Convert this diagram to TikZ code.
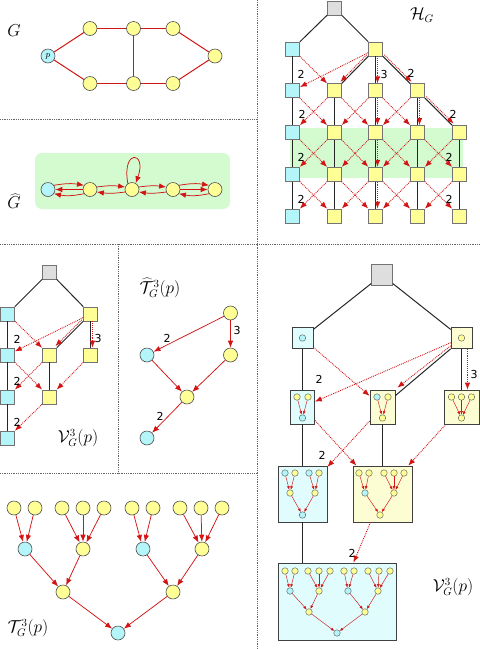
\documentclass[tikz,border=0pt]{standalone}
\usepackage{fontspec}
\newfontfamily\lbl{DejaVu Sans}
\usetikzlibrary{arrows.meta}
\definecolor{yel}{RGB}{255,255,150}
\definecolor{cya}{RGB}{180,245,250}
\definecolor{grn}{RGB}{212,250,208}
\definecolor{rd}{RGB}{210,20,20}
\definecolor{lcya}{RGB}{225,252,252}
\definecolor{lyel}{RGB}{253,253,212}
\definecolor{gry}{RGB}{222,222,222}
\definecolor{bord}{RGB}{80,80,80}
\tikzset{
 cn/.style={circle,draw=bord,line width=0.6pt,minimum size=14pt,inner sep=0pt},
 yc/.style={cn,fill=yel}, cc/.style={cn,fill=cya},
 sq/.style={rectangle,draw=black!55,line width=0.7pt,minimum size=14pt,inner sep=0pt},
 ys/.style={sq,fill=yel}, cs/.style={sq,fill=cya}, gs/.style={sq,fill=gry},
 sn/.style={circle,draw=bord,line width=0.4pt,minimum size=6.5pt,inner sep=0pt},
 ysn/.style={sn,fill=yel}, csn/.style={sn,fill=cya},
 ra/.style={draw=rd,line width=0.75pt,-{Latex[length=7pt,width=5.5pt]}},
 rdot/.style={ra,line width=0.9pt,densely dotted},
 sa/.style={draw=rd,line width=0.45pt,-{Latex[length=3.5pt,width=2.8pt]}},
 te/.style={draw=black!85,line width=1pt},
 ge/.style={draw=rd,line width=1pt},
 lab/.style={font=\lbl\fontsize{11}{11}\selectfont,inner sep=0pt},
 big/.style={font=\fontsize{16}{16}\selectfont,inner sep=0pt},
 div/.style={draw=black!60,densely dotted,line width=0.8pt},
 bx/.style={rectangle,draw=black!75,line width=0.7pt,inner sep=0pt},
}
\begin{document}
\begin{tikzpicture}[x=1pt,y=-1pt]
\useasboundingbox (0,0) rectangle (480,649);
% dividers
\draw[div] (0,119) -- (257,119);
\draw[div] (257,0) -- (257,649);
\draw[div] (0,244) -- (480,244);
\draw[div] (118,244) -- (118,473);
\draw[div] (0,473) -- (257,473);

% ---------------- G
\node[big] (gl) at (14,31) {$G$};
\node[cc,font=\small] (gp) at (48,56) {$p$};
\node[yc] (t1) at (90,28.5) {};
\node[yc] (t2) at (133.5,28.5) {};
\node[yc] (t3) at (173,28.5) {};
\node[yc] (gr) at (215,56) {};
\node[yc] (b1) at (90,83.5) {};
\node[yc] (b2) at (133.5,83.5) {};
\node[yc] (b3) at (173,83.5) {};
\foreach \a/\b in {gp/t1,t1/t2,t2/t3,t3/gr,gr/b3,b3/b2,b2/b1,b1/gp,t2/b2} \draw[ge] (\a) -- (\b);

% ---------------- G hat
\node[big] (ghl) at (14,201) {$\widehat{G}$};
\fill[grn,rounded corners=7pt] (35,153) rectangle (230,209);
\node[cc] (ga) at (48,189.5) {};
\node[yc] (gb) at (90,189.5) {};
\node[yc] (gc) at (132,189.5) {};
\node[yc] (gd) at (173,189.5) {};
\node[yc] (ge) at (215,189.5) {};
\draw[ra] (ga.35) to[bend left=10] (gb.145);
\draw[ra] (gb.west) -- (ga.east);
\draw[ra] (gb.215) to[bend left=12] (ga.325);
\draw[ra] (gb.20) to[bend left=8] (gc.160);
\draw[ra] (gc.200) to[bend left=8] (gb.340);
\draw[ra] (gc.20) to[bend left=8] (gd.160);
\draw[ra] (gd.200) to[bend left=8] (gc.340);
\draw[ra] (gd.35) to[bend left=10] (ge.145);
\draw[ra] (gd.east) -- (ge.west);
\draw[ra] (ge.215) to[bend left=12] (gd.325);
\draw[ra] (gc.125) .. controls +(-100:36) and +(-70:34) .. (gc.60);

% ---------------- H_G
\fill[grn] (290,128) rectangle (463,178);
\node[big] (hgl) at (422,15) {$\mathcal{H}_G$};
\node[gs] (hr) at (334.5,8) {};
\node[cs] (h10) at (292.5,49) {};
\node[ys] (h12) at (375.5,49) {};
\node[cs] (h20) at (292.5,90.75) {};
\node[ys] (h21) at (334.5,90.75) {};
\node[ys] (h22) at (375.5,90.75) {};
\node[ys] (h23) at (417.5,90.75) {};
\foreach \r/\y in {3/132.5,4/174.25,5/216} {
  \node[cs] (h\r0) at (292.5,\y) {};
  \node[ys] (h\r1) at (334.5,\y) {};
  \node[ys] (h\r2) at (375.5,\y) {};
  \node[ys] (h\r3) at (417.5,\y) {};
  \node[ys] (h\r4) at (459.5,\y) {};
}
\foreach \a/\b in {hr/h10,hr/h12,h10/h20,h20/h30,h30/h40,h40/h50,h12/h21,h12/h22,h12/h23,h23/h34,h21/h31,h31/h41,h41/h51,h22/h32,h32/h42,h42/h52,h23/h33,h33/h43,h43/h53,h34/h44,h44/h54}
  \draw[te] (\a) -- (\b);
\foreach \a/\b in {h10/h21,h12/h20,h20/h31,h21/h30,h21/h32,h22/h31,h22/h33,h23/h32,h30/h41,h31/h40,h31/h42,h32/h41,h32/h43,h33/h42,h33/h44,h34/h43,h40/h51,h41/h50,h41/h52,h42/h51,h42/h53,h43/h52,h43/h54,h44/h53}
  \draw[rdot] (\a) -- (\b);
\draw[rdot] ([xshift=-1.5pt,yshift=1.5pt]h12.south west) -- ([xshift=-1.5pt,yshift=1.5pt]h21.north east);
\draw[rdot] ([xshift=1.5pt,yshift=1.5pt]h12.south east) -- ([xshift=1.5pt,yshift=1.5pt]h23.north west);
\draw[rdot] ([xshift=1.5pt,yshift=1.5pt]h23.south east) -- ([xshift=1.5pt,yshift=1.5pt]h34.north west);
\foreach \a/\b in {h12/h22,h22/h32,h23/h33,h32/h42,h42/h52}
  \draw[rdot] ([xshift=2pt]\a.south) -- ([xshift=2pt]\b.north);
\node[lab] (hl1) at (301,74) {2};
\node[lab] (hl2) at (384,74) {3};
\node[lab] (hl3) at (411,73) {2};
\node[lab] (hl4) at (302,114) {2};
\node[lab] (hl5) at (453,114) {2};
\node[lab] (hl6) at (301,157) {2};
\node[lab] (hl7) at (449,157) {2};
\node[lab] (hl8) at (301,199) {2};
\node[lab] (hl9) at (449,199) {2};

% ---------------- V (middle left)
\node[gs] (va) at (49.5,272) {};
\node[cs] (v10) at (7.5,314) {};
\node[ys] (v12) at (90.5,314) {};
\node[cs] (v20) at (7.5,355) {};
\node[ys] (v21) at (49.5,355) {};
\node[ys] (v22) at (90.5,355) {};
\node[cs] (v30) at (7.5,397) {};
\node[ys] (v31) at (49.5,397) {};
\node[cs] (v40) at (7.5,438) {};
\foreach \a/\b in {va/v10,va/v12,v10/v20,v20/v30,v30/v40,v12/v21,v12/v22,v21/v31}
  \draw[te] (\a) -- (\b);
\foreach \a/\b in {v10/v21,v12/v20,v20/v31,v21/v30,v22/v31,v31/v40}
  \draw[rdot] (\a) -- (\b);
\draw[rdot] ([xshift=-1.5pt,yshift=1.5pt]v12.south west) -- ([xshift=-1.5pt,yshift=1.5pt]v21.north east);
\draw[rdot] ([xshift=2pt]v12.south) -- ([xshift=2pt]v22.north);
\node[lab] (vl1) at (17,339) {2};
\node[lab] (vl2) at (98,338) {3};
\node[lab] (vl3) at (17,381) {2};
\node[lab] (vl4) at (17,422) {2};
\node[big] (vlab) at (78,438) {$\mathcal{V}^3_G(p)$};

% ---------------- T hat
\node[big] (thl) at (160,288) {$\widehat{\mathcal{T}}^3_G(p)$};
\node[yc] (th1) at (230.5,313) {};
\node[cc] (th2) at (147,355) {};
\node[yc] (th3) at (230.5,355) {};
\node[yc] (th4) at (187,397) {};
\node[cc] (th5) at (147,438) {};
\foreach \a/\b in {th1/th2,th1/th3,th2/th4,th3/th4,th4/th5} \draw[ra] (\a) -- (\b);
\node[lab] (tl1) at (167,338) {2};
\node[lab] (tl2) at (237,330) {3};
\node[lab] (tl3) at (160,416) {2};

% ---------------- T (bottom left)
\node[big] (tlab) at (28,628) {$\mathcal{T}^3_G(p)$};
\foreach \i/\x in {1/14,2/35,3/62,4/83,5/104,6/132,7/153,8/180,9/201,10/222}
  \node[yc] (L\i) at (\x,508) {};
\node[cc] (M1) at (25,549) {};
\node[yc] (M2) at (83,549) {};
\node[cc] (M3) at (143,549) {};
\node[yc] (M4) at (202,549) {};
\node[yc] (N1) at (63,592) {};
\node[yc] (N2) at (173,592) {};
\node[cc] (R) at (118,633) {};
\foreach \a/\b in {L1/M1,L2/M1,L3/M2,L4/M2,L5/M2,L6/M3,L7/M3,L8/M4,L9/M4,L10/M4,M1/N1,M2/N1,M3/N2,M4/N2,N1/R,N2/R}
  \draw[ra] (\a) -- (\b);

% ---------------- V with boxes (bottom right)
\node[big] (vrl) at (453,587) {$\mathcal{V}^3_G(p)$};
\node[bx,fill=gry,draw=black!55,minimum size=21pt] (rr) at (382,275) {};
\node[bx,fill=lcya,minimum size=21pt] (bx1c) at (302.5,338) {};
\node[bx,fill=lyel,minimum size=21pt] (bx1y) at (461.5,338) {};
\node[bx,fill=lcya,minimum width=24pt,minimum height=34pt] (bx2c) at (302.5,407) {};
\node[bx,fill=lyel,minimum width=25pt,minimum height=34pt] (bx2m) at (382.5,407) {};
\node[bx,fill=lyel,minimum width=35pt,minimum height=34pt] (bx2r) at (461.5,407) {};
\node[bx,fill=lcya,minimum width=49pt,minimum height=56pt] (bx3c) at (302.5,494) {};
\node[bx,fill=lyel,minimum width=59pt,minimum height=56pt] (bx3y) at (382.5,494) {};
\node[bx,fill=lcya,minimum width=118pt,minimum height=77pt] (bx4) at (337,601.5) {};
% tree edges
\draw[te] (rr) -- (bx1c);
\draw[te] (rr) -- (bx1y);
\draw[te] (bx1c) -- (bx2c);
\draw[te] (bx1y.south west) -- ([yshift=-6pt]bx2m.north east);
\draw[te] (bx1y) -- (bx2r);
\draw[te] (bx2c) -- (bx3c);
\draw[te] (bx2m) -- (bx3y);
\draw[te] (bx3c.south) -- (bx3c.south |- bx4.north);
% red dotted
\draw[rdot] (bx1c) -- (bx2m);
\draw[rdot] (bx1y) -- (bx2c);
\draw[rdot] ([yshift=3pt]bx1y.south west) -- ([xshift=2pt,yshift=2pt]bx2m.north east);
\draw[rdot] ([xshift=6pt]bx1y.south) -- ([xshift=6pt]bx2r.north);
\draw[rdot] (bx2c) -- (bx3y);
\draw[rdot] (bx2m) -- (bx3c);
\draw[rdot] (bx2r) -- (bx3y);
\draw[rdot] (bx3y) -- (bx4);
\node[lab] (bl1) at (319,379) {2};
\node[lab] (bl2) at (474,374) {3};
\node[lab] (bl3) at (322,455) {2};
\node[lab] (bl4) at (352,553) {2};
% box contents
\node[csn] (s1c) at (302.5,338) {};
\node[ysn] (s1y) at (461.5,338) {};
\node[ysn] (c2a) at (297,397) {};
\node[ysn] (c2b) at (308,397) {};
\node[csn] (c2r) at (302.5,418) {};
\node[csn] (m2a) at (377,397) {};
\node[ysn] (m2b) at (388,397) {};
\node[ysn] (m2r) at (382.5,418) {};
\node[ysn] (r2a) at (451.5,397) {};
\node[ysn] (r2b) at (461.5,397) {};
\node[ysn] (r2c) at (471.5,397) {};
\node[ysn] (r2r) at (461.5,418) {};
\foreach \a/\b in {c2a/c2r,c2b/c2r,m2a/m2r,m2b/m2r,r2a/r2r,r2b/r2r,r2c/r2r} \draw[sa] (\a) -- (\b);
% bx3c
\node[csn] (c3a) at (285,473) {};
\node[ysn] (c3b) at (295,473) {};
\node[csn] (c3c) at (309,473) {};
\node[ysn] (c3d) at (319,473) {};
\node[ysn] (c3m) at (290,493) {};
\node[ysn] (c3n) at (315,493) {};
\node[csn] (c3r) at (302.5,515) {};
% bx3y
\node[ysn] (y3a) at (359,473) {};
\node[ysn] (y3b) at (369,473) {};
\node[ysn] (y3c) at (384,473) {};
\node[ysn] (y3d) at (394,473) {};
\node[ysn] (y3e) at (404,473) {};
\node[csn] (y3m) at (365,493) {};
\node[ysn] (y3n) at (394,493) {};
\node[ysn] (y3r) at (380,515) {};
\foreach \a/\b in {c3a/c3m,c3b/c3m,c3c/c3n,c3d/c3n,c3m/c3r,c3n/c3r,y3a/y3m,y3b/y3m,y3c/y3n,y3d/y3n,y3e/y3n,y3m/y3r,y3n/y3r} \draw[sa] (\a) -- (\b);
% bx4
\foreach \i/\x in {1/285,2/295,3/308,4/319,5/330,6/344,7/354,8/368,9/379,10/390}
  \node[ysn] (q\i) at (\x,571) {};
\node[csn] (qm1) at (290,591) {};
\node[ysn] (qm2) at (319,591) {};
\node[csn] (qm3) at (348,591) {};
\node[ysn] (qm4) at (378,591) {};
\node[ysn] (qn1) at (309,612) {};
\node[ysn] (qn2) at (365,612) {};
\node[csn] (qr) at (337,633) {};
\foreach \a/\b in {q1/qm1,q2/qm1,q3/qm2,q4/qm2,q5/qm2,q6/qm3,q7/qm3,q8/qm4,q9/qm4,q10/qm4,qm1/qn1,qm2/qn1,qm3/qn2,qm4/qn2,qn1/qr,qn2/qr}
  \draw[sa] (\a) -- (\b);
\end{tikzpicture}
\end{document}
